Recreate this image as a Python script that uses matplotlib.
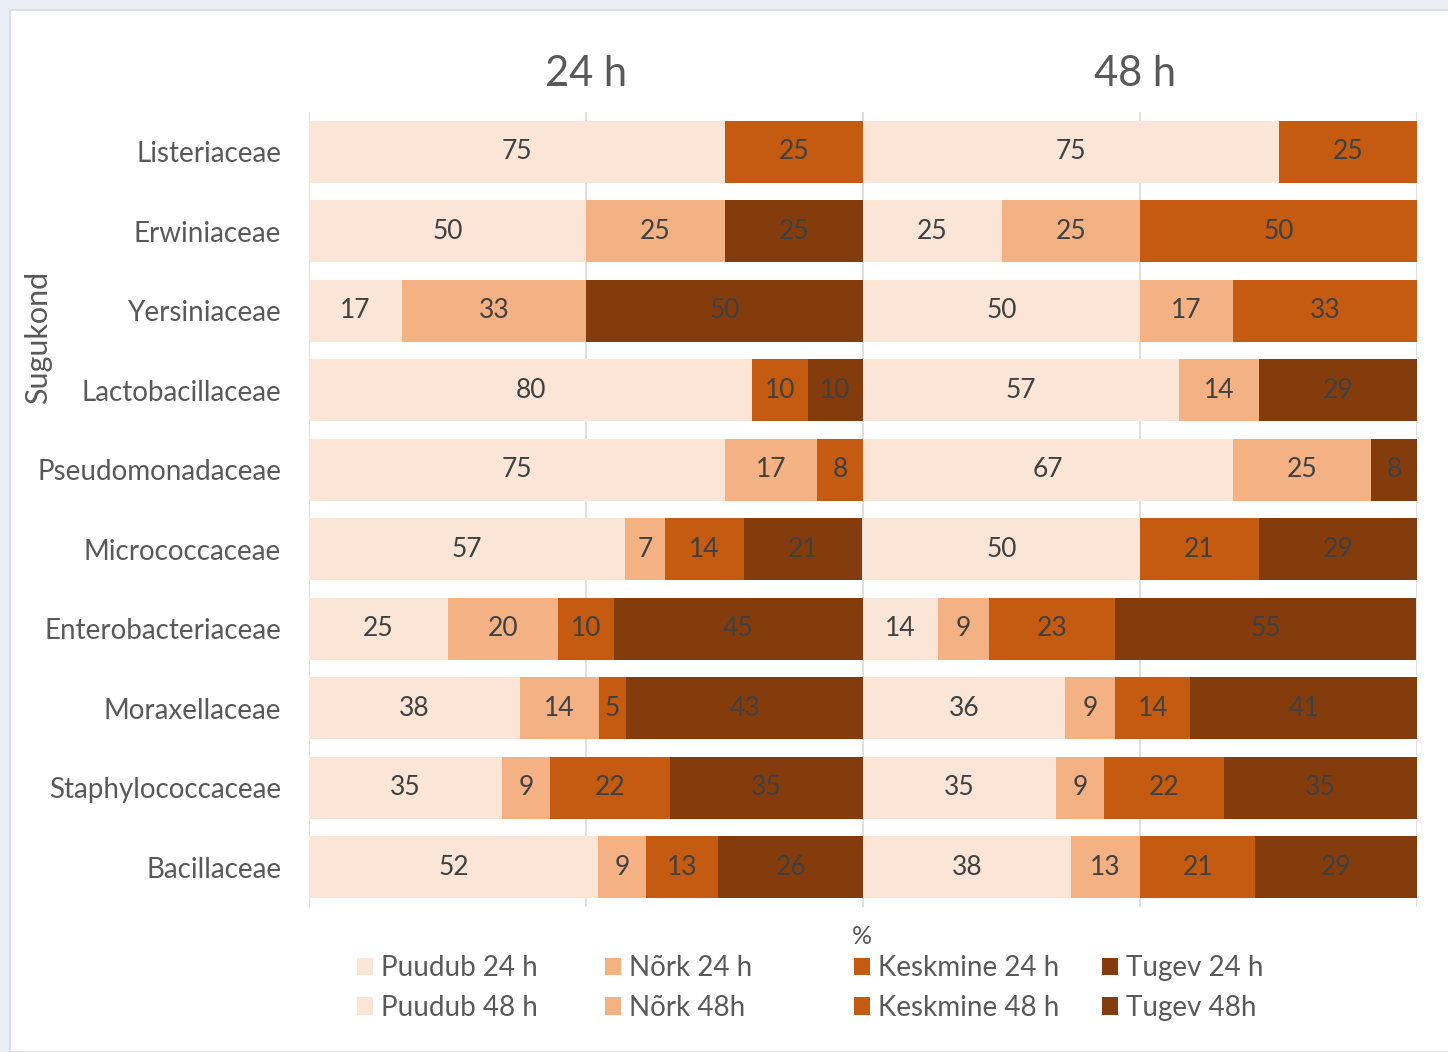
import numpy as np
import matplotlib.pyplot as plt
from matplotlib.patches import Patch, Rectangle

plt.rcParams["font.family"] = ["Lato", "DejaVu Sans"]

FAMILIES = ["Listeriaceae", "Erwiniaceae", "Yersiniaceae", "Lactobacillaceae",
            "Pseudomonadaceae", "Micrococcaceae", "Enterobacteriaceae",
            "Moraxellaceae", "Staphylococcaceae", "Bacillaceae"]

# growth intensity shares (%), 24 h
PUUDUB_24 = [75.0, 50.0, 16.7, 80.0, 75.0, 57.1, 25.0, 38.1, 34.8, 52.2]
NORK_24 = [0.0, 25.0, 33.3, 0.0, 16.7, 7.1, 20.0, 14.3, 8.7, 8.7]
KESKMINE_24 = [25.0, 0.0, 0.0, 10.0, 8.3, 14.3, 10.0, 4.8, 21.7, 13.0]
TUGEV_24 = [0.0, 25.0, 50.0, 10.0, 0.0, 21.4, 45.0, 42.9, 34.8, 26.1]

# growth intensity shares (%), 48 h
PUUDUB_48 = [75.0, 25.0, 50.0, 57.1, 66.7, 50.0, 13.6, 36.4, 34.8, 37.5]
NORK_48 = [0.0, 25.0, 16.7, 14.3, 25.0, 0.0, 9.1, 9.1, 8.7, 12.5]
KESKMINE_48 = [25.0, 50.0, 33.3, 0.0, 0.0, 21.4, 22.7, 13.6, 21.7, 20.8]
TUGEV_48 = [0.0, 0.0, 0.0, 28.6, 8.3, 28.6, 54.5, 40.9, 34.8, 29.2]

COLORS = ["#FBE5D6", "#F4B183", "#C55A11", "#843C0C"]
LABELS_24 = ["Puudub 24 h", "Nõrk 24 h", "Keskmine 24 h", "Tugev 24 h"]
LABELS_48 = ["Puudub 48 h", "Nõrk 48h", "Keskmine 48 h", "Tugev 48h"]

TEXT = "#595959"
W, H = 1448, 1052

fig = plt.figure(figsize=(W / 100, H / 100), dpi=100)
fig.patch.set_facecolor("#EAEEF6")
fig.patches.append(Rectangle((10 / W, 0), 1, 1 - 10 / H, transform=fig.transFigure,
                             facecolor="white", edgecolor="#D9D9D9", lw=1.2, zorder=-1))

ax = fig.add_axes([309 / W, 1 - 907 / H, (1417 - 309) / W, (907 - 112) / H])
ax.set_facecolor("none")
ax.set_zorder(1)

y = np.arange(len(FAMILIES))
bar_h = 0.78


def stack(series, offset):
    left = np.full(len(FAMILIES), float(offset))
    for vals, color in zip(series, COLORS):
        vals = np.asarray(vals, dtype=float)
        ax.barh(y, vals, left=left, height=bar_h, color=color, zorder=2)
        for yi, (l, v) in enumerate(zip(left, vals)):
            if v > 0:
                # round half up, as the spreadsheet labels do
                ax.text(l + v / 2, yi, f"{int(np.floor(v + 0.5))}", ha="center",
                        va="center", fontsize=19, color="#404040", zorder=3)
        left += vals


stack([PUUDUB_24, NORK_24, KESKMINE_24, TUGEV_24], 0)
stack([PUUDUB_48, NORK_48, KESKMINE_48, TUGEV_48], 100)

ax.set_xlim(0, 200)
ax.set_ylim(len(FAMILIES) - 0.5, -0.5)
ax.set_xticks([0, 50, 100, 150, 200])
ax.set_xticklabels([])
ax.grid(axis="x", color="#D9D9D9", lw=1.2, zorder=0)
ax.set_axisbelow(True)
ax.set_yticks(y)
ax.set_yticklabels(FAMILIES, fontsize=20, color=TEXT)
ax.tick_params(length=0, pad=20)
for s in ax.spines.values():
    s.set_visible(False)

fig.text(586 / W, 1 - 74 / H, "24 h", ha="center", va="center", fontsize=30, color=TEXT)
fig.text(1135 / W, 1 - 74 / H, "48 h", ha="center", va="center", fontsize=30, color=TEXT)
fig.text(38 / W, 1 - 337 / H, "Sugukond", rotation=90, ha="center", va="center",
         fontsize=22, color=TEXT)
fig.text(862 / W, 1 - 937 / H, "%", ha="center", va="center", fontsize=18, color=TEXT)

# one legend per intensity level so the columns stay evenly spaced
for i in range(4):
    x0 = 357 + 248.3 * i
    handles = [Patch(facecolor=COLORS[i], label=LABELS_24[i]),
               Patch(facecolor=COLORS[i], label=LABELS_48[i])]
    fig.legend(handles=handles, loc="upper left", bbox_to_anchor=(x0 / W, 1 - 955 / H),
               frameon=False, fontsize=20, labelcolor=TEXT, handlelength=0.58,
               handleheight=0.58, handletextpad=0.29, labelspacing=0.5,
               borderpad=0, borderaxespad=0)

fig.savefig("out.png", dpi=100, facecolor=fig.get_facecolor())
